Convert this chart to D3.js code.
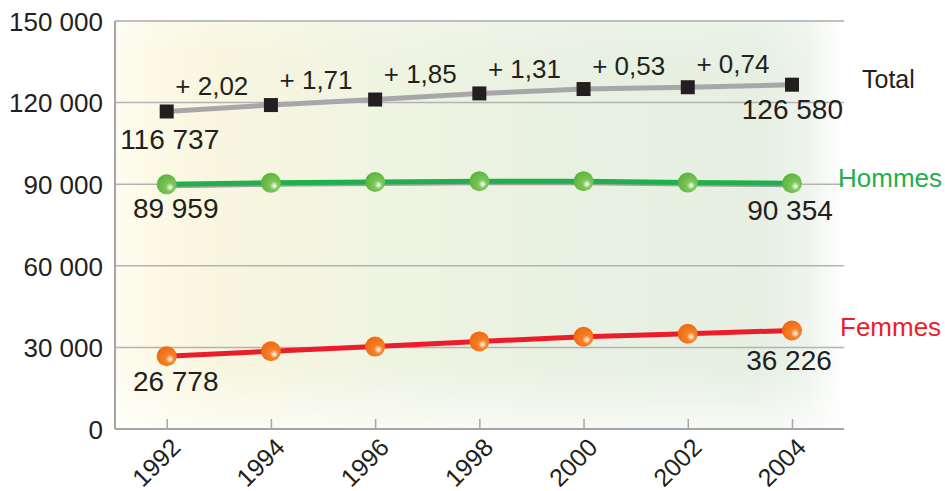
<!DOCTYPE html>
<html><head><meta charset="utf-8">
<script src="https://cdn.jsdelivr.net/npm/d3@7"></script>
<style>
body{margin:0;background:#fff;}
svg{display:block;font-family:"Liberation Sans",Arial,Helvetica,sans-serif;}
</style></head>
<body><svg id="c" width="945" height="491"></svg>
<script>
const years = [1992, 1994, 1996, 1998, 2000, 2002, 2004];
const total = [116737, 119095, 121132, 123373, 124989, 125651, 126580];
const hommes = [89959, 90500, 90800, 91100, 91100, 90600, 90354];
const femmes = [26778, 28600, 30300, 32200, 33900, 35000, 36226];
const growth = ["+ 2,02", "+ 1,71", "+ 1,85", "+ 1,31", "+ 0,53", "+ 0,74"];
const yTicks = [0, 30000, 60000, 90000, 120000, 150000];
const fmt = v => d3.format(",")(v).replace(/,/g, " ");

const svg = d3.select("#c");
const L = 115, R = 844, T = 21, B = 429;
const x = d3.scaleLinear().domain([1992, 2004]).range([166.7, 792]);
const y = d3.scaleLinear().domain([0, 150000]).range([B, T]);

const defs = svg.append("defs");
const bg = defs.append("linearGradient").attr("id", "bg").attr("x1", "0").attr("x2", "1").attr("y1", "0").attr("y2", "0");
[[0, "#fdfcf2"], [0.05, "#fcfae6"], [0.14, "#f8f6df"], [0.35, "#f0f4e2"], [0.6, "#e9f1e1"], [0.88, "#e6efe2"], [0.95, "#eef4ec"], [1, "#ffffff"]]
  .forEach(([o, c]) => bg.append("stop").attr("offset", o).attr("stop-color", c));
const bgv = defs.append("linearGradient").attr("id", "bgv").attr("x1", "0").attr("x2", "0").attr("y1", "0").attr("y2", "1");
[[0, 0.2], [0.1, 0], [0.85, 0], [1, 0.65]]
  .forEach(([o, a]) => bgv.append("stop").attr("offset", o).attr("stop-color", "#ffffff").attr("stop-opacity", a));

function sphere(id, base, dark) {
  const g = defs.append("radialGradient").attr("id", id)
    .attr("cx", "0.62").attr("cy", "0.6").attr("r", "0.6").attr("fx", "0.68").attr("fy", "0.66");
  g.append("stop").attr("offset", 0).attr("stop-color", "#ffffff");
  g.append("stop").attr("offset", 0.35).attr("stop-color", base);
  g.append("stop").attr("offset", 1).attr("stop-color", dark);
}
sphere("sg", "#7cc65a", "#5fb43e");
sphere("so", "#f6812a", "#ef6a12");

svg.append("rect").attr("x", L).attr("y", T).attr("width", R - L).attr("height", B - T).attr("fill", "url(#bg)");
svg.append("rect").attr("x", L).attr("y", T).attr("width", R - L).attr("height", B - T).attr("fill", "url(#bgv)");

// gridlines
svg.append("g").selectAll("line").data(yTicks.filter(d => d > 0 && d < 150000)).join("line")
  .attr("x1", L).attr("x2", R).attr("y1", d => y(d)).attr("y2", d => y(d))
  .attr("stroke", "#b3b3b3").attr("stroke-width", 1.5);
// frame
svg.append("line").attr("x1", L).attr("x2", R).attr("y1", T).attr("y2", T).attr("stroke", "#aaaaaa").attr("stroke-width", 1.5);
svg.append("line").attr("x1", L).attr("x2", L).attr("y1", T).attr("y2", B).attr("stroke", "#a6a6a6").attr("stroke-width", 2);

// y axis
const ya = svg.append("g").attr("transform", `translate(${L},0)`)
  .call(d3.axisLeft(y).tickValues(yTicks).tickSize(0).tickPadding(12).tickFormat(fmt));
ya.select(".domain").remove();
ya.selectAll("text").attr("font-size", 26).attr("fill", "#231f20").attr("font-family", "Liberation Sans, Arial, sans-serif").attr("dy", "0.36em");

// x axis
const xa = svg.append("g").attr("transform", `translate(0,${B})`)
  .call(d3.axisBottom(x).tickValues(years).tickSize(-10).tickFormat(d3.format("d")));
xa.select(".domain").attr("d", `M${L},0H${R}`).attr("stroke", "#a6a6a6").attr("stroke-width", 2);
xa.selectAll(".tick line").attr("stroke", "#a6a6a6").attr("stroke-width", 1.5);
xa.selectAll("text").attr("font-size", 25).attr("fill", "#231f20").attr("font-family", "Liberation Sans, Arial, sans-serif")
  .attr("text-anchor", "end").attr("dy", 0).attr("y", 0)
  .attr("transform", "translate(15,20) rotate(-45)");

const line = d3.line().x((d, i) => x(years[i])).y(d => y(d));

// lines
svg.append("path").datum(total).attr("d", line).attr("fill", "none").attr("stroke", "#a7a7aa").attr("stroke-width", 5);
svg.append("path").datum(hommes).attr("d", line).attr("fill", "none").attr("stroke", "#a0a0a0").attr("stroke-width", 5).attr("transform", "translate(0,1.5)");
svg.append("path").datum(hommes).attr("d", line).attr("fill", "none").attr("stroke", "#1db04b").attr("stroke-width", 5);
svg.append("path").datum(femmes).attr("d", line).attr("fill", "none").attr("stroke", "#ec1c2a").attr("stroke-width", 5);

// markers
svg.append("g").selectAll("rect").data(total).join("rect")
  .attr("x", (d, i) => x(years[i]) - 7).attr("y", d => y(d) - 7).attr("width", 14).attr("height", 14).attr("fill", "#231f20");
svg.append("g").selectAll("circle").data(hommes).join("circle")
  .attr("cx", (d, i) => x(years[i])).attr("cy", d => y(d)).attr("r", 10).attr("fill", "url(#sg)");
svg.append("g").selectAll("circle").data(femmes).join("circle")
  .attr("cx", (d, i) => x(years[i])).attr("cy", d => y(d)).attr("r", 10).attr("fill", "url(#so)");

const txt = (t, px, py, size, anchor, color) => svg.append("text").attr("x", px).attr("y", py)
  .attr("font-size", size).attr("text-anchor", anchor).attr("fill", color || "#231f20").text(t);

// growth labels
growth.forEach((g, i) => {
  const mx = (x(years[i]) + x(years[i + 1])) / 2;
  const my = y((total[i] + total[i + 1]) / 2);
  txt(g, mx - 7, my - 13, 26, "middle");
});

// value labels
const n = years.length - 1;
txt(fmt(total[0]), x(years[0]) + 3, 149, 28, "middle");
txt(fmt(total[n]), R - 1, 119, 28, "end");
txt(fmt(hommes[0]), x(years[0]) + 9, 218, 28, "middle");
txt(fmt(hommes[n]), x(years[n]) - 2, 220, 28, "middle");
txt(fmt(femmes[0]), x(years[0]) + 9, 391, 28, "middle");
txt(fmt(femmes[n]), x(years[n]) - 3, 370, 28, "middle");

// series labels
txt("Total", 862, 88, 25, "start");
txt("Hommes", 838, 187, 26, "start", "#1db04b");
txt("Femmes", 840, 336, 26, "start", "#ec1c2a");
</script></body></html>
